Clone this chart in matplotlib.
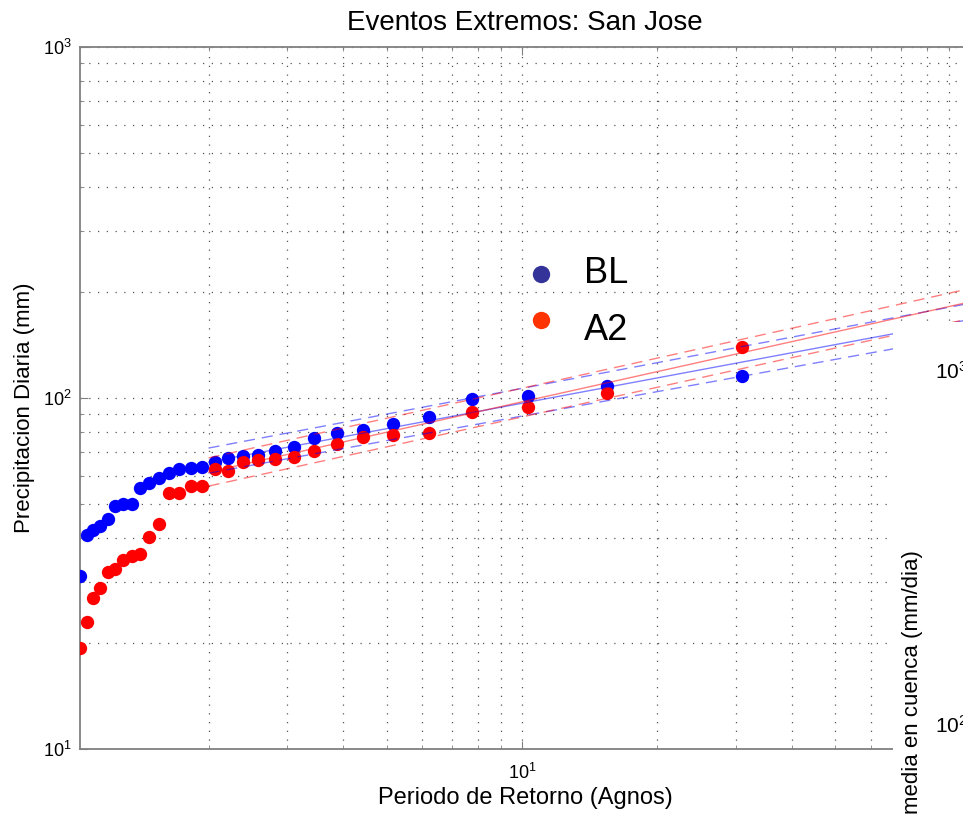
import matplotlib
matplotlib.use("Agg")
import matplotlib.pyplot as plt
from matplotlib.lines import Line2D
from matplotlib.patches import Rectangle
from matplotlib.ticker import NullFormatter, LogLocator

plt.rcParams['font.family'] = ['Liberation Sans', 'DejaVu Sans']
plt.rcParams['mathtext.fontset'] = 'custom'
plt.rcParams['mathtext.rm'] = 'Liberation Sans'

# Return periods (years) of the ranked annual maxima
periodo = [1.033, 1.069, 1.107, 1.148, 1.192, 1.24, 1.292, 1.348, 1.409, 1.476,
           1.55, 1.632, 1.722, 1.824, 1.938, 2.067, 2.214, 2.385, 2.583, 2.818,
           3.1, 3.444, 3.875, 4.429, 5.167, 6.2, 7.75, 10.33, 15.5, 31.0]

# Daily precipitation maxima (mm), baseline (BL) and A2 scenario
precip_bl = [31.2, 40.7, 42.1, 43.2, 45.1, 49.3, 49.9, 49.9, 55.3, 57.1,
             59.0, 61.3, 62.8, 63.1, 63.7, 65.6, 67.3, 68.5, 68.8, 70.8,
             72.6, 76.8, 79.3, 81.1, 84.3, 88.5, 99.4, 101.5, 108.2, 115.8]
precip_a2 = [19.4, 23.0, 26.9, 28.8, 32.0, 32.6, 34.6, 35.5, 35.9, 40.3,
             43.8, 53.5, 53.5, 56.2, 56.2, 62.8, 62.1, 65.8, 66.6, 66.9,
             68.1, 70.6, 73.9, 77.3, 78.5, 79.3, 91.4, 94.1, 103.1, 139.5]

# Fitted extreme-value curves and confidence bounds
periodo_ajuste = [2, 5, 10, 20, 50, 100]
ajuste_bl = [65.7, 81.8, 96.6, 114.0, 141.9, 167.4]
ajuste_bl_sup = [72.0, 90.0, 106.5, 126.0, 157.3, 186.2]
ajuste_bl_inf = [61.1, 75.6, 88.8, 104.2, 128.8, 151.3]
ajuste_a2 = [61.5, 79.9, 97.5, 118.8, 154.2, 187.9]
ajuste_a2_sup = [67.5, 87.6, 106.6, 129.8, 168.3, 205.1]
ajuste_a2_inf = [56.1, 72.6, 88.3, 107.2, 138.7, 168.4]

escenarios = ["BL", "A2"]
colores_leyenda = ["#333399", "#ff3300"]

W, H = 963, 815
fig = plt.figure(figsize=(W / 100, H / 100), dpi=100)
fig.patch.set_facecolor("white")

x0, x1 = 80, 970
y_top, y_bot = 47, 749
ax = fig.add_axes([x0 / W, (H - y_bot) / H, (x1 - x0) / W, (y_bot - y_top) / H])
ax.set_xscale("log")
ax.set_yscale("log")
ax.set_xlim(1.0333, 100)
ax.set_ylim(10, 1000)

ax.plot(periodo, precip_bl, "o", color="#0000ff", markersize=9.6, markeredgewidth=0, zorder=3)
ax.plot(periodo, precip_a2, "o", color="#ff0000", markersize=9.6, markeredgewidth=0, zorder=3)

for col, cen, sup, inf in [("#0000ff", ajuste_bl, ajuste_bl_sup, ajuste_bl_inf),
                           ("#ff0000", ajuste_a2, ajuste_a2_sup, ajuste_a2_inf)]:
    ax.plot(periodo_ajuste, cen, "-", color=col, lw=1.0, alpha=0.5, zorder=4)
    ax.plot(periodo_ajuste, sup, color=col, lw=1.0, alpha=0.5, dashes=(8, 5), zorder=4)
    ax.plot(periodo_ajuste, inf, color=col, lw=1.0, alpha=0.5, dashes=(8, 5), zorder=4)

ax.grid(True, which="both", linestyle=(0, (1, 6)), color="#555555", linewidth=0.9)
ax.set_axisbelow(True)
ax.xaxis.set_minor_formatter(NullFormatter())
ax.yaxis.set_minor_formatter(NullFormatter())
ax.yaxis.set_major_locator(LogLocator(base=10))
for s in ax.spines.values():
    s.set_color("#808080")
    s.set_linewidth(1.3)
ax.tick_params(which="both", direction="in", top=True, right=True, colors="#808080",
               labelcolor="black", labelsize=13)
ax.tick_params(which="major", length=6)
ax.tick_params(axis="x", which="major", pad=10)
ax.tick_params(axis="y", which="major", pad=6)
ax.tick_params(which="minor", length=3)

ax.set_title("Eventos Extremos: San Jose", fontsize=20, pad=12)
ax.set_xlabel("Periodo de Retorno (Agnos)", fontsize=17, labelpad=3)
ax.set_ylabel("Precipitacion Diaria (mm)", fontsize=16)
ax.yaxis.set_label_coords(-0.051, 0.486)

# Panel of the neighbouring basin-average axis
fig.add_artist(Rectangle((893 / W, 0), 1, (H - 322) / H, transform=fig.transFigure,
                         facecolor="white", edgecolor="none", zorder=5))
fig.text(912 / W, (H - 550) / H, "Precipitacion media en cuenca (mm/dia)", rotation=90,
         ha="center", va="top", fontsize=16, zorder=6)
fig.text(935 / W, (H - 372) / H, r"$\mathdefault{10^{3}}$", ha="left", va="center",
         fontsize=15, zorder=6)
fig.text(935 / W, (H - 726) / H, r"$\mathdefault{10^{2}}$", ha="left", va="center",
         fontsize=15, zorder=6)

# Legend
for i, (nombre, col) in enumerate(zip(escenarios, colores_leyenda)):
    ym = [274, 320][i]
    yb = [283, 340][i]
    fig.add_artist(Line2D([541 / W], [(H - ym) / H], marker="o", markersize=12.5,
                          color=col, markeredgewidth=0, transform=fig.transFigure, zorder=6))
    fig.text(584 / W, (H - yb) / H, nombre, ha="left", va="baseline", fontsize=26, zorder=6)

fig.savefig("out.png", dpi=100, facecolor="white")
